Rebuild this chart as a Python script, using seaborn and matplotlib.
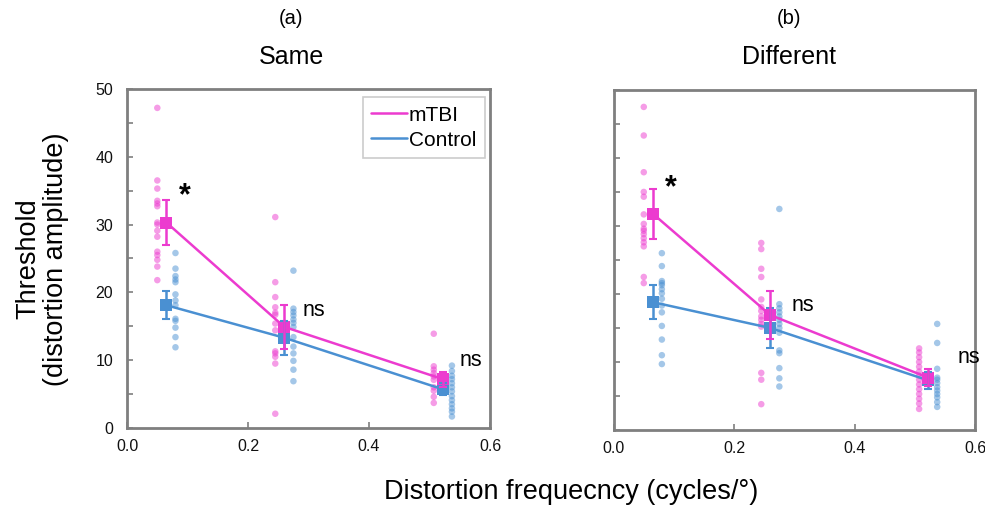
import numpy as np
import pandas as pd
import matplotlib
matplotlib.use("Agg")
import matplotlib.pyplot as plt
import seaborn as sns

sns.set_style("white")
plt.rcParams['font.family'] = ['Liberation Sans', 'DejaVu Sans']
plt.rcParams['text.color'] = 'black'

# spatial frequencies (cycles/deg) of the three conditions
freqs = [0.065, 0.26, 0.522]
groups = ["mTBI", "Control"]

# individual thresholds, panel (a) Same
same_mtbi = [
    [47.2, 36.5, 35.3, 33.5, 33.1, 32.7, 30.3, 30.0, 29.1, 28.2, 26.0, 25.5, 24.8, 23.8, 21.8],
    [31.1, 21.5, 19.3, 17.8, 17.0, 16.7, 15.4, 14.4, 11.3, 11.0, 10.5, 9.5, 2.1],
    [13.9, 9.1, 8.6, 8.1, 7.6, 7.1, 6.0, 5.5, 4.6, 3.7],
]
same_ctrl = [
    [25.8, 23.5, 22.4, 21.9, 21.5, 19.7, 18.8, 18.1, 16.1, 15.8, 14.8, 13.4, 11.9],
    [23.2, 17.6, 17.1, 16.6, 16.0, 15.5, 14.9, 13.4, 12.0, 11.0, 9.9, 8.6, 6.9],
    [9.2, 8.4, 7.7, 7.2, 6.6, 6.0, 5.4, 4.7, 4.1, 3.5, 2.9, 2.4, 1.7],
]
# individual thresholds, panel (b) Different
diff_mtbi = [
    [47.5, 43.3, 37.9, 35.0, 34.3, 31.7, 30.3, 29.6, 29.3, 28.8, 28.2, 27.6, 27.0, 22.5, 21.6],
    [27.5, 26.6, 23.7, 22.5, 19.2, 18.1, 17.5, 16.7, 16.2, 15.6, 15.2, 8.4, 7.4, 3.8],
    [12.0, 11.4, 10.7, 10.0, 9.3, 8.6, 8.0, 7.4, 6.7, 6.0, 5.3, 4.6, 3.9, 3.1],
]
diff_ctrl = [
    [26.0, 24.1, 21.9, 21.6, 21.3, 20.7, 20.1, 19.3, 18.3, 17.3, 15.3, 13.3, 11.0, 9.7],
    [32.5, 18.5, 17.9, 17.3, 16.7, 16.2, 15.6, 15.0, 14.3, 11.7, 11.3, 9.1, 7.6, 6.4],
    [15.6, 12.8, 9.0, 7.7, 7.4, 6.9, 6.3, 5.8, 5.3, 4.8, 4.1, 3.4],
]

# group means and error bars
same_mean = {"mTBI": [30.3, 14.9, 7.2], "Control": [18.1, 13.3, 5.7]}
same_err = {"mTBI": [3.3, 3.3, 1.1], "Control": [2.1, 2.5, 0.9]}
diff_mean = {"mTBI": [31.8, 16.9, 7.7], "Control": [18.8, 15.0, 7.3]}
diff_err = {"mTBI": [3.7, 3.5, 1.2], "Control": [2.5, 3.0, 1.3]}

palette = {"mTBI": "#EC3BCF", "Control": "#4A90D2"}
dot_shift = {"mTBI": -0.015, "Control": 0.015}
grey = "#7F7F7F"


def long_table(mtbi, ctrl):
    rows = []
    for g, data in zip(groups, [mtbi, ctrl]):
        for f, vals in zip(freqs, data):
            for v in vals:
                rows.append({"group": g, "freq": f + dot_shift[g], "thr": v})
    return pd.DataFrame(rows)


def mean_table(means):
    rows = []
    for g in groups:
        for f, m in zip(freqs, means[g]):
            rows.append({"group": g, "freq": f, "thr": m})
    return pd.DataFrame(rows)


fig = plt.figure(figsize=(9.85, 5.08), dpi=100)
ax1 = fig.add_axes([0.129, 0.1575, 0.3685, 0.6675])
ax2 = fig.add_axes([0.623, 0.1535, 0.367, 0.6695])

panels = [
    (ax1, same_mtbi, same_ctrl, same_mean, same_err, "(a)", "Same", 0.2955),
    (ax2, diff_mtbi, diff_ctrl, diff_mean, diff_err, "(b)", "Different", 0.801),
]

for ax, mt, ct, means, errs, tag, name, tx in panels:
    dots = long_table(mt, ct)
    sns.scatterplot(data=dots, x="freq", y="thr", hue="group", palette=palette,
                    alpha=0.5, s=22, edgecolor="none", legend=False, ax=ax)
    mdf = mean_table(means)
    sns.lineplot(data=mdf, x="freq", y="thr", hue="group", palette=palette,
                 hue_order=["Control", "mTBI"], marker="s", markersize=8,
                 markeredgewidth=0, linewidth=1.8, legend=False, ax=ax)
    for g in ["Control", "mTBI"]:
        ax.errorbar(freqs, means[g], yerr=errs[g], fmt="none", ecolor=palette[g],
                    elinewidth=1.8, capsize=3, capthick=1.5)

    ax.set_xlim(0, 0.6)
    ax.set_ylim(0, 50)
    ax.set_xticks([0.0, 0.2, 0.4, 0.6])
    ax.set_xticklabels(["0.0", "0.2", "0.4", "0.6"])
    ax.set_yticks(range(0, 51, 5))
    ax.set_xlabel("")
    ax.set_ylabel("")
    ax.tick_params(direction="in", length=4, width=1.2, color=grey,
                   labelsize=11.5, labelcolor="#111111", left=True, bottom=True)
    ax.tick_params(axis="y", pad=10)
    ax.tick_params(axis="x", pad=8)
    for sp in ax.spines.values():
        sp.set_color(grey)
        sp.set_linewidth(2)
    fig.text(tx, 0.963, tag, ha="center", va="center", fontsize=14.5)
    fig.text(tx, 0.888, name, ha="center", va="center", fontsize=18)

ax1.set_yticklabels(["0", "", "10", "", "20", "", "30", "", "40", "", "50"])
ax2.set_yticklabels([])

# significance marks
ax1.text(0.085, 34.2, "*", fontsize=22, fontweight="bold", ha="left", va="center")
ax1.text(0.29, 17.3, "ns", fontsize=15.5, ha="left", va="center")
ax1.text(0.55, 10.0, "ns", fontsize=15.5, ha="left", va="center")
ax2.text(0.085, 35.5, "*", fontsize=22, fontweight="bold", ha="left", va="center")
ax2.text(0.295, 18.3, "ns", fontsize=15.5, ha="left", va="center")
ax2.text(0.57, 10.7, "ns", fontsize=15.5, ha="left", va="center")

handles = [plt.Line2D([], [], color=palette[g], linewidth=1.8) for g in groups]
leg = ax1.legend(handles, groups, loc="upper right", bbox_to_anchor=(0.985, 0.975),
                 fontsize=15, frameon=True, fancybox=False, handlelength=1.7,
                 handletextpad=0.1, borderpad=0.4, labelspacing=0.28,
                 borderaxespad=0)
leg.get_frame().set_edgecolor("#BFBFBF")
leg.get_frame().set_linewidth(1.2)

fig.text(0.043, 0.49, "Threshold\n(distortion amplitude)", rotation=90, ha="center",
         va="center", fontsize=19.5, linespacing=1.1)
fig.text(0.58, 0.032, "Distortion frequecncy (cycles/\u00b0)", ha="center",
         va="center", fontsize=19.5)

fig.savefig("out.png", dpi=100)
